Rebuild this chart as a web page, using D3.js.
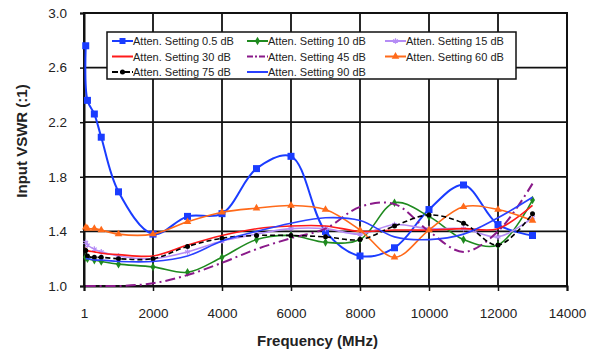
<!DOCTYPE html>
<html lang="en">
<head>
<meta charset="UTF-8">
<script src="https://d3js.org/d3.v7.min.js"></script>
<style>
  body { margin: 0; background: #fff; }
  text { font-family: "Liberation Sans", Arial, sans-serif; }
</style>
</head>
<body>
<script>
const freq = [50, 100, 300, 500, 1000, 2000, 3000, 4000, 5000, 6000, 7000, 8000, 9000, 10000, 11000, 12000, 13000];
const xTicks = [0, 2000, 4000, 6000, 8000, 10000, 12000, 14000];
const yTicks = [1.0, 1.4, 1.8, 2.2, 2.6, 3.0];

const att05 = [2.76, 2.36, 2.26, 2.09, 1.69, 1.38, 1.51, 1.53, 1.86, 1.95, 1.40, 1.22, 1.28, 1.56, 1.74, 1.45, 1.37];
const att10 = [1.21, 1.20, 1.19, 1.18, 1.16, 1.14, 1.10, 1.21, 1.34, 1.37, 1.32, 1.34, 1.61, 1.51, 1.34, 1.30, 1.63];
const att15 = [1.32, 1.30, 1.27, 1.25, 1.22, 1.20, 1.25, 1.33, 1.38, 1.42, 1.42, 1.38, 1.45, 1.42, 1.42, 1.36, 1.50];
const att30 = [1.28, 1.26, 1.25, 1.24, 1.23, 1.22, 1.30, 1.37, 1.42, 1.44, 1.44, 1.40, 1.41, 1.41, 1.42, 1.42, 1.59];
const att45 = [1.00, 1.00, 1.00, 1.00, 1.00, 1.02, 1.08, 1.17, 1.27, 1.35, 1.42, 1.58, 1.60, 1.40, 1.25, 1.40, 1.75];
const att60 = [1.43, 1.42, 1.42, 1.41, 1.38, 1.38, 1.47, 1.54, 1.57, 1.59, 1.56, 1.41, 1.21, 1.41, 1.58, 1.56, 1.48];
const att75 = [1.26, 1.22, 1.21, 1.21, 1.20, 1.20, 1.29, 1.35, 1.37, 1.37, 1.36, 1.34, 1.44, 1.52, 1.46, 1.30, 1.53];
const att90 = [1.20, 1.20, 1.19, 1.19, 1.18, 1.18, 1.22, 1.33, 1.40, 1.46, 1.50, 1.48, 1.36, 1.34, 1.38, 1.50, 1.65];

const names = ['Atten. Setting 0.5 dB', 'Atten. Setting 10 dB', 'Atten. Setting 15 dB',
  'Atten. Setting 30 dB', 'Atten. Setting 45 dB', 'Atten. Setting 60 dB',
  'Atten. Setting 75 dB', 'Atten. Setting 90 dB'];

const series = [
  { name: names[0], values: att05, color: '#1a3cff', marker: 'square', dash: null, width: 2 },
  { name: names[1], values: att10, color: '#1f8a1f', marker: 'diamond', dash: null, width: 1.6 },
  { name: names[2], values: att15, color: '#b58cf5', marker: 'star', dash: null, width: 1.6 },
  { name: names[3], values: att30, color: '#ff1a1a', marker: 'plus', dash: null, width: 1.6 },
  { name: names[4], values: att45, color: '#8a1a8a', marker: null, dash: '10,4,2,4', width: 2 },
  { name: names[5], values: att60, color: '#ff6a1a', marker: 'triangle', dash: null, width: 1.6 },
  { name: names[6], values: att75, color: '#000000', marker: 'circle', dash: '5,3', width: 1.6 },
  { name: names[7], values: att90, color: '#2a40ff', marker: null, dash: null, width: 1.6 }
];

const width = 604, height = 359;
const margin = { left: 84, top: 13, right: 37, bottom: 73 };
const iw = width - margin.left - margin.right;
const ih = height - margin.top - margin.bottom;

const svg = d3.select('body').append('svg')
  .attr('width', width).attr('height', height);

const x = d3.scaleLinear().domain([0, 14000]).range([0, iw]);
const y = d3.scaleLinear().domain([1.0, 3.0]).range([ih, 0]);

const g = svg.append('g').attr('transform', `translate(${margin.left},${margin.top})`);

// grid
g.append('g').selectAll('line.v').data(xTicks).enter().append('line')
  .attr('x1', d => x(d)).attr('x2', d => x(d)).attr('y1', 0).attr('y2', ih)
  .attr('stroke', '#111').attr('stroke-width', 1.8);
g.append('g').selectAll('line.h').data(yTicks).enter().append('line')
  .attr('x1', 0).attr('x2', iw).attr('y1', d => y(d)).attr('y2', d => y(d))
  .attr('stroke', '#111').attr('stroke-width', 1.8);

// axes
const xAxis = g.append('g').attr('transform', `translate(0,${ih})`)
  .call(d3.axisBottom(x).tickValues(xTicks).tickSize(5).tickPadding(17)
    .tickFormat(d => d === 0 ? '1' : d));
const yAxis = g.append('g')
  .call(d3.axisLeft(y).tickValues(yTicks).tickSize(4).tickPadding(13).tickFormat(d3.format('.1f')));
[xAxis, yAxis].forEach(a => {
  a.select('.domain').attr('stroke', '#111').attr('stroke-width', 2);
  a.selectAll('.tick line').attr('stroke', '#111').attr('stroke-width', 1.5);
  a.selectAll('.tick text').attr('font-size', 13.5).attr('fill', '#222')
    .style('font-family', '"Liberation Sans", Arial, sans-serif');
});
g.append('rect').attr('width', iw).attr('height', ih)
  .attr('fill', 'none').attr('stroke', '#111').attr('stroke-width', 2);

// titles
svg.append('text').attr('x', margin.left + iw / 2 - 8).attr('y', 346)
  .attr('text-anchor', 'middle').attr('font-size', 15).attr('font-weight', 'bold')
  .attr('fill', '#222').text('Frequency (MHz)');
svg.append('text').attr('transform', `translate(27,${margin.top + 128}) rotate(-90)`)
  .attr('text-anchor', 'middle').attr('font-size', 15).attr('font-weight', 'bold')
  .attr('fill', '#222').text('Input VSWR (:1)');

function drawMarker(sel, type, color, size) {
  const s = size;
  if (type === 'square') {
    sel.append('rect').attr('x', -s / 2).attr('y', -s / 2).attr('width', s).attr('height', s).attr('fill', color);
  } else if (type === 'diamond') {
    sel.append('path').attr('d', d3.symbol(d3.symbolDiamond, s * s * 0.6)()).attr('fill', color);
  } else if (type === 'triangle') {
    sel.append('path').attr('d', d3.symbol(d3.symbolTriangle, s * s * 0.7)()).attr('fill', color);
  } else if (type === 'circle') {
    sel.append('circle').attr('r', s / 2.4).attr('fill', color);
  } else if (type === 'star') {
    sel.append('path').attr('d', d3.symbol(d3.symbolAsterisk || d3.symbolX, s * s * 0.6)())
      .attr('stroke', color).attr('stroke-width', 1.2).attr('fill', 'none');
  } else if (type === 'plus') {
    sel.append('path').attr('d', d3.symbol(d3.symbolPlus, s * s * 0.5)()).attr('fill', color);
  }
}

const line = d3.line().x((d, i) => x(freq[i])).y(d => y(d)).curve(d3.curveCatmullRom.alpha(0.5));

series.forEach(s => {
  g.append('path').datum(s.values).attr('d', line)
    .attr('fill', 'none').attr('stroke', s.color).attr('stroke-width', s.width)
    .attr('stroke-dasharray', s.dash);
  if (s.marker) {
    const size = s.marker === 'square' ? 7 : 6;
    g.append('g').selectAll('g').data(s.values).enter().append('g')
      .attr('transform', (d, i) => `translate(${x(freq[i])},${y(d)})`)
      .each(function () { drawMarker(d3.select(this), s.marker, s.color, size); });
  }
});

// legend
const leg = svg.append('g').attr('transform', 'translate(107,32)');
leg.append('rect').attr('width', 409).attr('height', 47)
  .attr('fill', '#fff').attr('stroke', '#111').attr('stroke-width', 1.5);
const colX = [5, 140, 278];
series.forEach((s, i) => {
  const col = i % 3, row = Math.floor(i / 3);
  const item = leg.append('g').attr('transform', `translate(${colX[col]},${9 + row * 15.5})`);
  item.append('line').attr('x1', 0).attr('x2', 21).attr('y1', 0).attr('y2', 0)
    .attr('stroke', s.color).attr('stroke-width', 2).attr('stroke-dasharray', s.dash ? '6,2,2,2' : null);
  if (s.marker) drawMarker(item.append('g').attr('transform', 'translate(10.5,0)'), s.marker, s.color, 6);
  item.append('text').attr('x', 21).attr('y', 4).attr('font-size', 11).attr('fill', '#222').text(s.name);
});
</script>
</body>
</html>
